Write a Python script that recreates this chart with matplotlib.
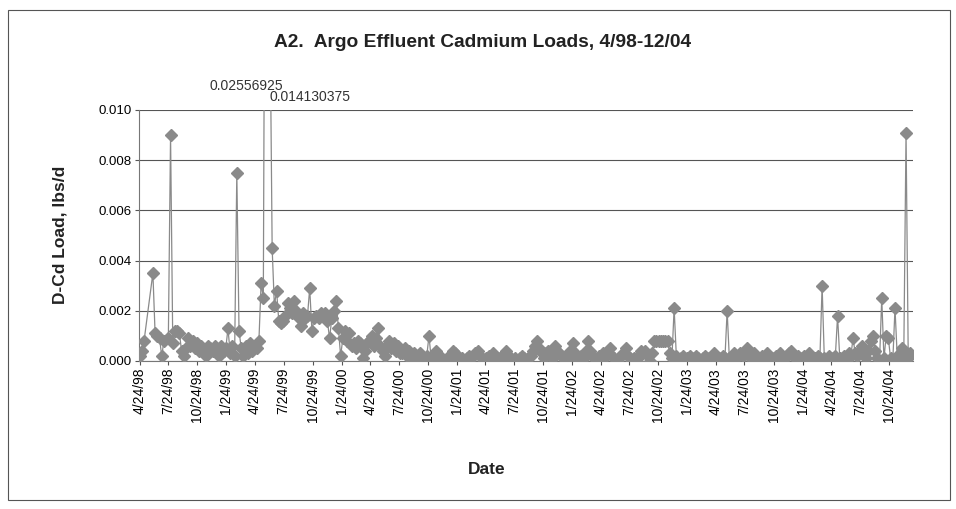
import numpy as np
import pandas as pd
import matplotlib
matplotlib.use('Agg')
import matplotlib.pyplot as plt
import matplotlib.dates as mdates
import matplotlib.transforms as mtransforms
from matplotlib.patches import Rectangle

plt.rcParams['font.family'] = ['Liberation Sans', 'DejaVu Sans']

# weekly samples starting 4/24/98, None = no sample that week (line just joins across)
start_date = '1998-04-24'

loads_1998 = [0.0002, 0.0004, 0.0008, None, None, None, 0.0035, 0.0011, 0.0010, 0.0009,
              0.0002, 0.0008, None, 0.0009, 0.0090, 0.0007, 0.0012, 0.0012, 0.0011, 0.0004,
              0.0002, 0.0005, 0.0009, 0.0006, 0.0008, 0.0005, 0.0007, 0.0004, 0.0006, 0.0003,
              0.0002, 0.0006, 0.0005, 0.0004, 0.0006, 0.0003]
loads_1999 = [0.0002, 0.0006, 0.0004, 0.0005, 0.0013, 0.0003, 0.0006, 0.0002, 0.0075, 0.0012,
              0.0005, 0.0002, 0.0006, 0.0003, 0.0007, 0.0004, 0.0006, 0.0005, 0.0008, 0.0031,
              0.0025, 0.02556925, None, 0.014130375, 0.0045, 0.0022, 0.0028, 0.0016, 0.0015, 0.0016,
              0.0018, 0.0023, 0.0021, 0.0019, 0.0024, 0.0020, 0.0017, 0.0014, 0.0019, 0.0017,
              0.0018, 0.0029, 0.0012, 0.0017, 0.0018, 0.0017, 0.0019, 0.0018, 0.0019, 0.0016,
              0.0009, 0.0017, 0.0020]
loads_2000 = [0.0024, 0.0013, 0.0002, 0.0009, 0.0012, 0.0008, 0.0011, 0.0006, 0.0007, 0.0005,
              0.0008, 0.0007, 0.0001, 0.0004, 0.0007, 0.0008, 0.0010, 0.0006, 0.0009, 0.0013,
              0.0006, 0.0004, 0.0002, 0.0006, 0.0008, 0.0005, 0.0007, 0.0004, 0.0006, 0.0003,
              0.0003, 0.0005, 0.0002, 0.0004, 0.0001, 0.0003, 0.0002, 0.0001, 0.0003, 0.0001,
              0.0000, 0.0002, 0.0010, 0.0001, 0.0002, 0.0004, 0.0002, 0.0000, 0.0001, 0.0000,
              0.0001, 0.0000]
loads_2001 = [0.0002, 0.0004, 0.0003, 0.0001, 0.0000, 0.0001, 0.0000, 0.0001, 0.0002, 0.0001,
              0.0002, 0.0003, 0.0004, 0.0002, 0.0001, 0.0000, 0.0001, 0.0002, 0.0001, 0.0003,
              0.0002, 0.0000, 0.0001, 0.0002, 0.0001, 0.0004, 0.0002, 0.0001, 0.0000, 0.0001,
              0.0000, 0.0001, 0.0002, 0.0001, 0.0000, 0.0001, 0.0002, 0.0004, 0.0006, 0.0008,
              0.0005, 0.0003, 0.0001, 0.0003, 0.0004, 0.0002, 0.0001, 0.0006, 0.0004, 0.0003,
              0.0002, 0.0001]
loads_2002 = [0.0002, 0.0001, 0.0004, 0.0007, 0.0003, 0.0001, 0.0000, 0.0002, 0.0001, 0.0004,
              0.0008, 0.0004, 0.0002, 0.0001, 0.0000, 0.0002, 0.0001, 0.0003, 0.0002, 0.0003,
              0.0005, 0.0002, 0.0001, 0.0000, 0.0001, 0.0002, 0.0003, 0.0005, 0.0002, 0.0001,
              0.0000, 0.0001, 0.0000, 0.0002, 0.0004, 0.0003, 0.0004, 0.0002, 0.0000, 0.0003,
              0.0008, 0.0008, 0.0008, 0.0008, 0.0008, 0.0008, 0.0008, 0.0003, 0.0001, 0.0021,
              0.0002, 0.0000]
loads_2003 = [0.0001, 0.0002, 0.0000, 0.0001, 0.0002, 0.0001, 0.0000, 0.0002, 0.0001, 0.0000,
              0.0001, 0.0002, 0.0001, 0.0000, 0.0002, 0.0003, 0.0001, 0.0000, 0.0001, 0.0002,
              0.0001, 0.0020, 0.0001, 0.0002, 0.0003, 0.0001, 0.0002, 0.0003, 0.0002, 0.0004,
              0.0005, 0.0002, 0.0001, 0.0003, 0.0002, 0.0000, 0.0001, 0.0002, 0.0001, 0.0003,
              0.0002, 0.0000, 0.0001, 0.0002, 0.0001, 0.0003, 0.0002, 0.0001, 0.0002, 0.0003,
              0.0004, 0.0002]
loads_2004 = [0.0001, 0.0002, 0.0000, 0.0001, 0.0002, 0.0001, 0.0003, 0.0001, 0.0000, 0.0001,
              0.0002, 0.0001, 0.0030, 0.0001, 0.0000, 0.0002, 0.0001, 0.0000, 0.0002, 0.0018,
              0.0001, 0.0000, 0.0002, 0.0001, 0.0003, 0.0002, 0.0009, 0.0003, 0.0002, 0.0004,
              0.0006, 0.0003, 0.0001, 0.0004, 0.0008, 0.0010, 0.0004, 0.0001, 0.0000, 0.0025,
              0.0001, 0.0010, 0.0009, 0.0001, 0.0000, 0.0021, 0.0002, 0.0000, 0.0005, 0.0004,
              0.0091, 0.0001, 0.0003]

# values that run off the top of the chart get a label
offscale_labels = ['0.02556925', '0.014130375']

tick_start = '1998-04-24'
n_ticks = 27

all_loads = loads_1998 + loads_1999 + loads_2000 + loads_2001 + loads_2002 + loads_2003 + loads_2004
loads = np.array([np.nan if v is None else v for v in all_loads], dtype=float)
dates = pd.date_range(start_date, periods=len(loads), freq='7D')
ok = ~np.isnan(loads)
dates_ok = dates[ok]
loads_ok = loads[ok]

tick_dates = pd.date_range(tick_start, periods=n_ticks, freq=pd.DateOffset(months=3))
tick_labels = ['%d/%d/%s' % (d.month, d.day, d.strftime('%y')) for d in tick_dates]

fig = plt.figure(figsize=(9.56, 5.09), dpi=100)
ax = fig.add_axes([0.1454, 0.2908, 0.8096, 0.4931])

grey = '#8a8a8a'
ax.plot(dates_ok, loads_ok, color=grey, lw=0.9, marker='D', ms=6.5,
        mfc=grey, mec=grey, zorder=3)

ax.set_ylim(0, 0.010)
ax.set_yticks(np.arange(0, 0.0101, 0.002))
ax.set_yticklabels(['%.3f' % t for t in np.arange(0, 0.0101, 0.002)], fontsize=9.5)
ax.set_xlim(dates_ok[0] - pd.Timedelta(days=2), dates_ok[-1] + pd.Timedelta(days=8))
ax.set_xticks(tick_dates)
ax.set_xticklabels(tick_labels, rotation=90, fontsize=10)
ax.tick_params(axis='both', direction='out', length=3, color='#555555', pad=2)
ax.grid(axis='y', color='#555555', lw=0.8)
ax.set_axisbelow(True)
for s in ['top', 'right']:
    ax.spines[s].set_visible(False)
for s in ['left', 'bottom']:
    ax.spines[s].set_color('#777777')
    ax.spines[s].set_linewidth(0.8)

# labels for the two clipped peaks
big = np.argsort(loads_ok)[::-1][:2]
trans = mtransforms.blended_transform_factory(ax.transData, ax.transAxes)
i1, i2 = sorted(big)
ax.annotate(offscale_labels[0], xy=(mdates.date2num(dates_ok[i1]), 1.0), xycoords=trans,
            xytext=(-14, 17), textcoords='offset points', ha='center', va='center',
            fontsize=10, color='#333333', annotation_clip=False)
ax.annotate(offscale_labels[1], xy=(mdates.date2num(dates_ok[i2]), 1.0), xycoords=trans,
            xytext=(29, 9), textcoords='offset points', ha='center', va='center',
            fontsize=10, color='#333333', annotation_clip=False)

fig.text(0.505, 0.917, 'A2.  Argo Effluent Cadmium Loads, 4/98-12/04',
         ha='center', va='center', fontsize=13.8, fontweight='bold', color='#222222')
fig.text(0.063, 0.538, 'D-Cd Load, lbs/d', rotation=90, ha='center', va='center',
         fontsize=12.5, fontweight='bold', color='#222222')
fig.text(0.509, 0.077, 'Date', ha='center', va='center',
         fontsize=12.5, fontweight='bold', color='#222222')

# chart area border
fig.patches.append(Rectangle((8 / 956, 9 / 509), 942 / 956, 490 / 509,
                             transform=fig.transFigure, fill=False,
                             ec='#555555', lw=0.8))

fig.savefig('out.png', dpi=100)
